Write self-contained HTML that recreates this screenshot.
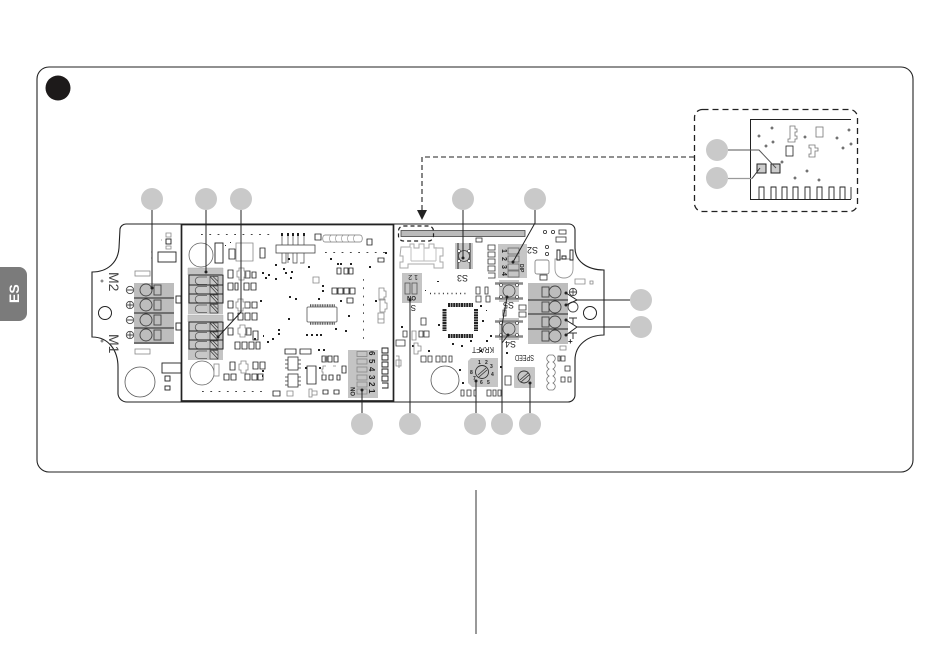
<!DOCTYPE html>
<html><head><meta charset="utf-8"><style>
html,body{margin:0;padding:0;background:#fff;width:950px;height:672px;overflow:hidden}
svg{display:block}
text{font-family:"Liberation Sans",sans-serif;fill:#222}
</style></head><body>
<svg width="950" height="672" viewBox="0 0 950 672" xmlns="http://www.w3.org/2000/svg">
<defs>
<g id="row"><path d="M207 1H199a3.500 3.500 0 0 0 0 7.500h8" fill="#c8c8c8" stroke="#555" stroke-width=".8"/><rect x="210" y=".5" width="8" height="8.500" fill="#c8c8c8" stroke="#444" stroke-width=".7"/><path d="M210 .5l8 8.500M213 .5l5 5" stroke="#333" stroke-width=".7"/></g>
<g id="sw"><rect x="-10" y="-11" width="20" height="22" fill="#c6c6c6"/><path d="M-14-7.500h28M-14 7.500h28" stroke="#888" stroke-width="2.400"/><circle r="6" fill="#c6c6c6" stroke="#444" stroke-width=".8"/><circle cx="-8" cy="-6" r="1.500" fill="#fff" stroke="#333" stroke-width=".6"/><circle cx="8" cy="-6" r="1.500" fill="#fff" stroke="#333" stroke-width=".6"/><circle cx="-8" cy="6" r="1.500" fill="#fff" stroke="#333" stroke-width=".6"/><circle cx="8" cy="6" r="1.500" fill="#fff" stroke="#333" stroke-width=".6"/></g>
</defs>

<!-- tab + frame -->
<path d="M0 267h19a8 8 0 0 1 8 8v38a8 8 0 0 1-8 8H0z" fill="#7b7b7b"/>
<text x="0" y="0" transform="translate(19 303) rotate(-90)" font-size="14" font-weight="700" style="fill:#fff">ES</text>
<rect x="37" y="67" width="876" height="405" rx="12" fill="none" stroke="#222" stroke-width="1.100"/>
<circle cx="58" cy="88" r="12.500" fill="#1d1a1a"/>
<path d="M476 490V634" stroke="#333" stroke-width="1"/>

<!-- PCB outline -->
<path d="M126 224H569a6 6 0 0 1 6 6V248c0 13 12 22 29 22V335c-16 0-29 10-29 25V395a7 7 0 0 1-7 7H127a9 9 0 0 1-9-8V367c0-16-9-30-26-30V272c16 0 26-10 27-24L120 229a6 6 0 0 1 6-5z" fill="#fff" stroke="#222" stroke-width="1.100"/>
<circle cx="140" cy="382" r="15" fill="#fff" stroke="#555" stroke-width=".8"/>
<circle cx="445" cy="380" r="14" fill="#fff" stroke="#555" stroke-width=".8"/>
<circle cx="590" cy="313" r="6.500" fill="#fff" stroke="#222" stroke-width="1"/>
<circle cx="105" cy="313" r="6.500" fill="#fff" stroke="#222" stroke-width="1"/>
<circle cx="102" cy="281" r="1" fill="none" stroke="#555" stroke-width=".7"/><circle cx="102" cy="341" r="1" fill="none" stroke="#555" stroke-width=".7"/>

<!-- left terminal -->
<rect x="134" y="283" width="40" height="61" fill="#bdbdbd"/>
<path d="M134 298H174M134 313H174M134 328H174M134 343H174" stroke="#222" stroke-width="1"/>
<g fill="none" stroke="#444" stroke-width=".9"><circle cx="146" cy="290" r="6"/><circle cx="146" cy="305" r="6"/><circle cx="146" cy="320" r="6"/><circle cx="146" cy="335" r="6"/>
<rect x="154" y="285" width="7" height="10"/><rect x="154" y="300" width="7" height="10"/><rect x="154" y="315" width="7" height="10"/><rect x="154" y="330" width="7" height="10"/>
<circle cx="130" cy="290" r="3.700"/><circle cx="130" cy="305" r="3.700"/><circle cx="130" cy="320" r="3.700"/><circle cx="130" cy="335" r="3.700"/>
<path d="M127 290h6M127 305h6M127 320h6M127 335h6M130 332v6M130 302v6"/></g>
<g fill="none" stroke="#888" stroke-width=".8"><rect x="135" y="271" width="15" height="5"/><rect x="135" y="349" width="15" height="5"/></g>
<text transform="translate(109 272) rotate(90)" font-size="14" style="fill:#444">M2</text>
<text transform="translate(109 334) rotate(90)" font-size="14" style="fill:#444">M1</text>
<g fill="#fff" stroke="#222" stroke-width=".9"><rect x="158" y="252" width="18" height="10"/><rect x="162" y="363" width="19" height="10"/><rect x="176" y="296" width="5" height="7"/><rect x="176" y="323" width="5" height="7"/><rect x="165" y="376" width="5" height="5"/><rect x="165" y="386" width="5" height="4"/><rect x="166" y="239" width="5" height="5"/></g>
<path d="M166 233h5v4h-5zM166 246h5v3h-5zM161 240h1M151 252h1M151 258h1" fill="none" stroke="#888" stroke-width=".8"/>

<!-- module -->
<rect x="181.500" y="224.500" width="212" height="176.500" fill="#fff" stroke="#222" stroke-width="1.700"/>
<circle cx="201" cy="255" r="12" fill="#fff" stroke="#666" stroke-width=".8"/>
<circle cx="202" cy="373" r="12" fill="#fff" stroke="#666" stroke-width=".8"/>
<rect x="215" y="243" width="8" height="20" fill="#fff" stroke="#222" stroke-width=".9"/>
<rect x="214" y="364" width="5" height="12" fill="#fff" stroke="#888" stroke-width=".8"/>

<!-- module terminals -->
<rect x="188" y="268" width="35" height="46" fill="#c4c4c4"/>
<rect x="188" y="315" width="35" height="45" fill="#c4c4c4"/>
<use href="#row" y="276"/><use href="#row" y="285.500"/><use href="#row" y="294.500"/><use href="#row" y="304"/>
<use href="#row" y="322.500"/><use href="#row" y="331.500"/><use href="#row" y="340.500"/><use href="#row" y="350"/>
<path d="M189 275H223V303H189zM189 285H223M189 294H223M189 322H223V349H189zM189 331H223M189 340H223" stroke="#222" stroke-width="1" fill="none"/>
<path d="M188 275V268H223V275M188 322V315H223V322" fill="none" stroke="#aaa" stroke-width=".5"/>

<!-- small parts -->
<path fill="#fff" stroke="#222" stroke-width=".85" d="M228 270h5v8h-5zM245 271h5v7h-5zM252 272h4v6h-4zM228 283h5v7h-5zM235 283h3v7h-3zM244 283h5v7h-5zM251 283h5v7h-5zM228 301h5v7h-5zM245 302h5v6h-5zM252 302h5v6h-5zM228 313h5v7h-5zM238 313h5v7h-5zM245 313h5v7h-5zM252 313h5v7h-5zM228 328h5v7h-5zM246 328h5v7h-5zM253 331h5v9h-5zM235 342h5v7h-5zM242 342h5v7h-5zM249 342h5v7h-5zM256 342h4v7h-4zM230 362h5v8h-5zM253 362h5v7h-5zM260 362h5v7h-5zM224 374h5v6h-5zM231 374h5v6h-5zM245 374h5v6h-5zM252 374h5v6h-5zM258 374h5v6h-5zM229 249h6v10h-6zM260 248h5v10h-5zM315 234h6v6h-6zM367 239h5v6h-5zM337 268h4v6h-4zM344 268h4v6h-4zM349 268h4v6h-4zM332 288h5v6h-5zM338 288h5v6h-5zM344 288h5v6h-5zM350 288h5v6h-5zM347 298h6v5h-6zM285 349h11v5h-11zM300 349h11v5h-11zM322 356h4v6h-4zM328 356h4v6h-4zM334 356h4v6h-4zM322 375h4v5h-4zM329 375h4v5h-4zM337 375h3v5h-3zM307 366h9v18h-9zM342 366h4v7h-4zM323 390h5v4h-5zM334 390h5v4h-5zM273 391h7v5h-7zM378 258h6v4h-6z"/>
<path fill="none" stroke="#888" stroke-width=".8" d="M239 268h5v3h2v6h-2v3h-5v-3h-2v-6h2zM238 299h5v3h2v6h-2v3h-5v-3h-2v-6h2zM240 325h5v3h2v6h-2v3h-5v-3h-2v-6h2zM241 361h5v3h2v6h-2v3h-5v-3h-2v-6h2zM325 356h2v6h-2zM379 288h5v3h2v6h-2v3h-5zM380 299h5v4h2v6h-2v3h-5zM378 313h6v6h-6zM378 319h6v4h-6zM236 243h17v18h-17zM313 277h6v6h-6zM287 391h6v5h-6zM309 389h3v8h-3zM312 391h5v4h-5zM326 366h-3v3h-1v3h1v3h3M336 366h-3"/>
<path fill="none" stroke="#444" stroke-width=".7" d="M282 235v10M288 235v10M293 235v10M298 235v10M304 235v10M282 253v10h4v-10M288 253v10M293 253v10h4v-10M304 253v10h-4"/>
<path fill="#fff" stroke="#777" stroke-width=".7" d="M325 235c-3 0-3 7 0 7h35c3 0 3-7 0-7z"/>
<path fill="none" stroke="#888" stroke-width=".6" d="M331 235c-2 2-2 5 0 7M337 235c-2 2-2 5 0 7M343 235c-2 2-2 5 0 7M349 235c-2 2-2 5 0 7M355 235c-2 2-2 5 0 7"/>
<rect x="276" y="245" width="39" height="8" fill="#fff" stroke="#444" stroke-width=".8"/>
<path fill="#222" d="M281 233h2v3h-2zM287 233h2v3h-2zM292 233h2v3h-2zM297 233h2v3h-2zM303 233h2v3h-2z"/>
<rect x="307" y="307" width="30" height="15" rx="1" fill="#fff" stroke="#555" stroke-width=".8"/>
<path d="M310 305.500H335M310 323.500H335" stroke="#555" stroke-width="2.600" stroke-dasharray="1 .7"/>
<g fill="#fff" stroke="#333" stroke-width=".8"><rect x="288" y="357" width="10" height="13"/><rect x="288" y="374" width="10" height="13"/></g>
<path d="M285 360h3M285 364h3M285 368h3M298 360h3M298 364h3M298 368h3M285 377h3M285 381h3M285 385h3M298 377h3M298 381h3M298 385h3" stroke="#333" stroke-width=".8"/>

<!-- vias -->
<g fill="none" stroke="#444">
<path stroke-dasharray="1.800 6.500" stroke-width=".9" d="M201 234.500H270M325 252.500H385M363.500 279V345M202 391.500H262"/>
</g>
<g fill="#222"><path d="M230 242h1v1h-1zM275 264h2v2h-2zM268 274h2v2h-2zM262 272h2v2h-2zM275 278h2v2h-2zM290 277h2v2h-2zM285 272h2v2h-2zM308 266h2v2h-2zM322 285h2v2h-2zM318 298h2v2h-2zM295 298h2v2h-2zM288 318h2v2h-2zM289 296h2v2h-2zM340 300h2v2h-2zM348 315h2v2h-2zM306 334h2v2h-2zM311 334h2v2h-2zM316 334h2v2h-2zM320 334h2v2h-2zM335 328h2v2h-2zM345 330h2v2h-2zM278 329h2v2h-2zM278 333h2v2h-2zM267 341h2v2h-2zM272 338h2v2h-2zM260 300h2v2h-2zM265 277h2v2h-2zM262 370h2v2h-2zM262 375h1v2h-1zM263 335h1v2h-1zM254 338h2v2h-2zM322 290h2v2h-2zM288 258h2v2h-2zM330 258h2v2h-2zM337 263h2v2h-2zM369 266h2v2h-2zM385 252h2v2h-2zM375 300h2v2h-2zM340 263h2v2h-2zM350 263h2v2h-2zM283 268h2v2h-2zM291 271h2v2h-2zM318 349h2v2h-2zM323 349h2v2h-2zM305 367h2v2h-2zM319 367h2v2h-2zM225 245h1v1h-1z"/></g>

<!-- six-way DIP -->
<rect x="348" y="350" width="30" height="48" fill="#c4c4c4"/>
<g fill="none" stroke="#888" stroke-width=".8"><rect x="357" y="351.500" width="10" height="5"/><rect x="357" y="359" width="10" height="5"/><rect x="357" y="367" width="10" height="5"/><rect x="357" y="375" width="10" height="5"/><rect x="357" y="382" width="10" height="5"/><rect x="357" y="389" width="10" height="5"/></g>
<g font-size="8" font-weight="700"><text transform="translate(369 351) rotate(90)">6</text><text transform="translate(369 359) rotate(90)">5</text><text transform="translate(369 367) rotate(90)">4</text><text transform="translate(369 375) rotate(90)">3</text><text transform="translate(369 382) rotate(90)">2</text><text transform="translate(369 389) rotate(90)">1</text><text transform="translate(355 396) rotate(-90)" font-size="6">ON</text></g>
<path d="M382 348h6v5h-6zM382 355h6v5h-6zM382 362h6v5h-6zM382 369h6v5h-6zM382 376h6v5h-6zM382 383h6v5h-6" fill="#fff" stroke="#222" stroke-width=".9"/>

<!-- right half -->
<rect x="401" y="230.500" width="124" height="6" fill="#bbb" stroke="#444" stroke-width=".8"/>
<rect x="398.500" y="226" width="35" height="15" rx="5" fill="none" stroke="#222" stroke-width="1.200" stroke-dasharray="4 3"/>
<path d="M401 247h9v-3h4v4h5v-4h5v4h5v-4h5v4h9v8h-3v6h3v6h-9v-4h-26v4h-8v-6h3v-6h-3z" fill="#fff" stroke="#aaa" stroke-width="1"/>
<path d="M411 247v14M424 247v14M436 247v14M411 261h25" fill="none" stroke="#bbb" stroke-width=".9"/>
<rect x="402" y="273" width="20" height="30" fill="#c4c4c4"/>
<g fill="none" stroke="#555" stroke-width=".8"><rect x="405" y="283" width="5" height="11"/><rect x="412" y="283" width="5" height="11"/></g>
<text transform="translate(418 275) rotate(180)" font-size="7">1 2</text>
<text transform="translate(416 296) rotate(180)" font-size="6" font-weight="700">ON</text>
<text transform="translate(416 305) rotate(180)" font-size="8">S</text>

<g transform="translate(464 256)"><rect x="-9" y="-13" width="18" height="26" fill="#c6c6c6"/><path d="M-6-13v26M6-13v26" stroke="#555" stroke-width="1.400"/><circle r="5.500" fill="#c6c6c6" stroke="#444" stroke-width=".8"/><circle cx="-5" cy="-5" r="1.500" fill="#fff" stroke="#333" stroke-width=".5"/><circle cx="5" cy="-5" r="1.500" fill="#fff" stroke="#333" stroke-width=".5"/><circle cx="-5" cy="5" r="1.500" fill="#fff" stroke="#333" stroke-width=".5"/><circle cx="5" cy="5" r="1.500" fill="#fff" stroke="#333" stroke-width=".5"/></g>
<text transform="translate(468 275) rotate(180)" font-size="9">S3</text>
<rect x="476" y="238" width="6" height="4" fill="#fff" stroke="#333" stroke-width=".8"/>
<path d="M488 245h7v5h-7zM488 252h7v5h-7zM488 259h7v5h-7zM488 266h7v5h-7zM488 273h7v5h-7" fill="#fff" stroke="#333" stroke-width=".8"/>
<rect x="498" y="244" width="29" height="34" fill="#c6c6c6"/>
<g fill="none" stroke="#666" stroke-width=".8"><rect x="508" y="248" width="11" height="6"/><rect x="508" y="256" width="11" height="6"/><rect x="508" y="264" width="11" height="6"/><rect x="508" y="271" width="11" height="6"/></g>
<g font-size="7" font-weight="700"><text transform="translate(502 249) rotate(90)">1</text><text transform="translate(502 257) rotate(90)">2</text><text transform="translate(502 265) rotate(90)">3</text><text transform="translate(502 272) rotate(90)">4</text></g>
<text transform="translate(538 247) rotate(180)" font-size="9">S2</text>
<text transform="translate(520 264) rotate(90)" font-size="5" font-weight="700">DIP</text>
<g fill="none" stroke="#333" stroke-width=".8"><circle cx="545" cy="232" r="1.600"/><circle cx="553" cy="232" r="1.600"/><rect x="559" y="230" width="7" height="4"/><rect x="556" y="237" width="10" height="5"/><circle cx="547" cy="247" r="1.600"/><circle cx="547" cy="254" r="1.600"/><rect x="540" y="275" width="7" height="5"/></g>
<rect x="535" y="260" width="14" height="14" rx="2" fill="#fff" stroke="#888" stroke-width=".9"/>
<path d="M555 259h18v10c0 6-4 9-9 9s-9-3-9-9z" fill="#fff" stroke="#999" stroke-width=".9"/>
<path d="M557 250h3v10h-3zM570 250h3v10h-3zM562 256h4v3h-4z" fill="#fff" stroke="#222" stroke-width=".9"/>
<path d="M575 279h10v5h-10zM590 281h3v3h-3z" fill="none" stroke="#888" stroke-width=".8"/>

<g transform="translate(509 291)"><use href="#sw"/></g>
<g transform="translate(509 329)"><use href="#sw"/></g>
<text transform="translate(514 302) rotate(180)" font-size="9">S5</text>
<text transform="translate(516 341) rotate(180)" font-size="9">S4</text>
<path d="M519 305h7v5h-7zM519 312h7v5h-7zM503 310h3v6h-3z" fill="#fff" stroke="#333" stroke-width=".8"/>

<rect x="528" y="283" width="40" height="61" fill="#bdbdbd"/>
<path d="M528 300H568M528 314H568M528 329H568" stroke="#222" stroke-width="1"/>
<g fill="none" stroke="#444" stroke-width=".9"><circle cx="555" cy="292" r="6"/><circle cx="555" cy="307" r="6"/><circle cx="555" cy="322" r="6"/><circle cx="555" cy="336" r="6"/><rect x="542" y="287" width="7" height="10"/><rect x="542" y="302" width="7" height="10"/><rect x="542" y="317" width="7" height="10"/><rect x="542" y="331" width="7" height="10"/><circle cx="573" cy="292" r="3.700"/><circle cx="573" cy="307" r="5"/><path d="M569 292h8M573 288v8"/></g>
<path d="M569 318h8M573 318v6M569 333h8M573 333v6" stroke="#333" stroke-width="1" fill="none"/>
<text x="568" y="344" font-size="8" font-weight="700">+</text>
<rect x="560" y="346" width="6" height="4" fill="none" stroke="#888" stroke-width=".8"/>

<!-- chip -->
<rect x="447" y="307" width="26" height="26" fill="#fff"/>
<path d="M448 305H473M448 336H473M444.500 309V331M476 309V331" stroke="#222" stroke-width="4" stroke-dasharray="2 .6"/>
<path d="M430 293.500H468" stroke="#333" stroke-width="1.500" stroke-dasharray="1 3.300"/>
<path fill="#222" d="M437 281h2v1h-2zM425 290h1v1h-1zM480 305h2v2h-2zM486 310h1v1h-1zM482 320h2v2h-2zM486 340h2v2h-2zM438 324h2v2h-2zM401 326h2v2h-2zM412 345h2v2h-2zM428 350h2v2h-2zM452 343h2v2h-2zM461 345h2v2h-2zM470 340h2v2h-2zM480 350h2v2h-2zM490 335h2v2h-2zM506 352h2v2h-2zM500 366h2v2h-2zM459 369h2v2h-2zM462 382h2v2h-2z"/>
<path fill="#fff" stroke="#333" stroke-width=".8" d="M476 287h4v7h-4zM485 287h3v7h-3zM476 296h5v6h-5zM486 296h4v6h-4zM421 318h5v7h-5zM403 331h4v6h-4zM419 331h4v6h-4zM424 331h5v6h-5zM421 356h5v6h-5zM428 356h4v6h-4zM436 356h4v6h-4zM442 356h4v6h-4zM449 356h3v6h-3zM461 390h3v6h-3zM467 390h4v6h-4zM474 390h2v6h-2zM487 390h4v6h-4zM493 390h3v6h-3zM498 390h3v6h-3zM505 376h6v9h-6zM396 340h9v6h-9zM561 356h4v5h-4zM565 366h5v5h-5zM561 377h4v5h-4zM568 377h3v5h-3zM558 356h2v5h-2z"/>
<g fill="none" stroke="#888" stroke-width=".8"><path d="M412 331h4v9h-4zM414 343h4v3h3v5h-3v3h-4zM396 360h5v6h-5zM396 356h3v12"/></g>
<path d="M553 355c3 2 3 5 0 7 3 2 3 5 0 7 3 2 3 5 0 7 3 2 3 5 0 7 3 2 3 5 0 7h-4c-3-2-3-5 0-7-3-2-3-5 0-7-3-2-3-5 0-7-3-2-3-5 0-7-3-2-3-5 0-7z" fill="#fff" stroke="#777" stroke-width=".8"/>

<!-- KRAFT -->
<path d="M471 358H498V387H472L468 383V361Z" fill="#c6c6c6"/>
<circle cx="482" cy="372" r="6.500" fill="#c6c6c6" stroke="#333" stroke-width=".9"/>
<path d="M478 375l8-7M479 377l8-7" stroke="#333" stroke-width=".8"/>
<text transform="translate(494 347) rotate(180)" font-size="8" textLength="22" lengthAdjust="spacingAndGlyphs">KRAFT</text>
<g font-size="5" font-weight="700"><text x="478" y="364">1</text><text x="485" y="364">2</text><text x="490" y="368">3</text><text x="491" y="376">4</text><text x="487" y="384">5</text><text x="480" y="384">6</text><text x="473" y="380">7</text><text x="470" y="374">8</text></g>
<rect x="514" y="367" width="21" height="21" fill="#c6c6c6" rx="1"/>
<circle cx="524" cy="377" r="6" fill="#c6c6c6" stroke="#333" stroke-width=".9"/>
<path d="M520 380l8-7M521 382l8-7" stroke="#333" stroke-width=".8"/>
<text transform="translate(534 355) rotate(180)" font-size="8" textLength="19" lengthAdjust="spacingAndGlyphs">SPEED</text>

<!-- leaders -->
<g fill="none" stroke="#222" stroke-width="1">
<path d="M152 210V288M206 210V272M241 210V312L218 337M463 210V258M535 210V223L513 262M362 413V390M410 413V300M476 413V381M530 413V383M502 413V343L508 335M502 343V325L507 297"/>
<path d="M630 300H577L566 293M577 300L566 305M630 327H577L566 320M577 327L566 335"/>
</g>
<g fill="#222"><circle cx="152" cy="288" r="1.500"/><circle cx="206" cy="272" r="1.500"/><circle cx="218" cy="337" r="1.500"/><circle cx="463" cy="258" r="1.500"/><circle cx="513" cy="262" r="1.500"/><circle cx="362" cy="390" r="1.500"/><circle cx="410" cy="300" r="1.500"/><circle cx="476" cy="381" r="1.500"/><circle cx="530" cy="383" r="1.500"/><circle cx="507" cy="297" r="1.500"/><circle cx="508" cy="335" r="1.500"/><circle cx="566" cy="293" r="1.500"/><circle cx="566" cy="305" r="1.500"/><circle cx="566" cy="320" r="1.500"/><circle cx="566" cy="335" r="1.500"/></g>
<g fill="#c9c9c9"><circle cx="152" cy="199" r="11"/><circle cx="206" cy="199" r="11"/><circle cx="241" cy="199" r="11"/><circle cx="463" cy="199" r="11"/><circle cx="535" cy="199" r="11"/><circle cx="641" cy="300" r="11"/><circle cx="641" cy="327" r="11"/><circle cx="362" cy="424" r="11"/><circle cx="410" cy="424" r="11"/><circle cx="475" cy="424" r="11"/><circle cx="502" cy="424" r="11"/><circle cx="530" cy="424" r="11"/></g>

<!-- dashed link -->
<path d="M694 157H422V211" fill="none" stroke="#222" stroke-width="1.100" stroke-dasharray="5 3"/>
<path d="M417 210H427L422 220Z" fill="#222"/>

<!-- inset -->
<rect x="694.500" y="109.500" width="163" height="102" rx="8" fill="#fff" stroke="#222" stroke-width="1.300" stroke-dasharray="6 4"/>
<path d="M851 119.500H750.500V199.500H851" fill="none" stroke="#222" stroke-width="1"/>
<path d="M759 199V187h5v12M771 199V187h5v12M782 199V187h5v12M793 199V187h5v12M805 199V187h5v12M817 199V187h5v12M829 199V187h5v12M840 199V187h5v12M851 199V187" fill="none" stroke="#222" stroke-width=".9"/>
<path d="M791 126h4v3h2v3h-2v4h2v3h-2v3h-7v-3h2v-13z" fill="none" stroke="#777" stroke-width=".8"/>
<rect x="816" y="127" width="7" height="10" fill="none" stroke="#777" stroke-width=".8"/>
<rect x="786" y="146" width="7" height="10" fill="none" stroke="#222" stroke-width=".8"/>
<path d="M809 145h6v3h3v3h-3v6h-6v-3h2v-6h-2z" fill="none" stroke="#777" stroke-width=".8"/>
<g fill="none" stroke="#333" stroke-width=".7"><circle cx="759" cy="136" r="1"/><circle cx="772" cy="128" r="1"/><circle cx="773" cy="142" r="1"/><circle cx="766" cy="146" r="1"/><circle cx="782" cy="162" r="1"/><circle cx="805" cy="137" r="1"/><circle cx="837" cy="138" r="1"/><circle cx="849" cy="130" r="1"/><circle cx="843" cy="148" r="1"/><circle cx="851" cy="144" r="1"/><circle cx="807" cy="171" r="1"/><circle cx="795" cy="178" r="1"/><circle cx="819" cy="180" r="1"/></g>
<rect x="757" y="164" width="9" height="9" fill="#ccc" stroke="#222" stroke-width="1"/>
<rect x="771" y="164" width="9" height="9" fill="#ccc" stroke="#222" stroke-width="1"/>
<path d="M728 150H759L776 168" fill="none" stroke="#555" stroke-width="1"/>
<path d="M728 178.500H752" fill="none" stroke="#9a9a9a" stroke-width="1.300"/>
<path d="M752 178.500L760 168" stroke="#333" stroke-width="1"/>
<circle cx="717" cy="150" r="11" fill="#c9c9c9"/><circle cx="717" cy="178" r="11" fill="#c9c9c9"/>
</svg>
</body></html>
